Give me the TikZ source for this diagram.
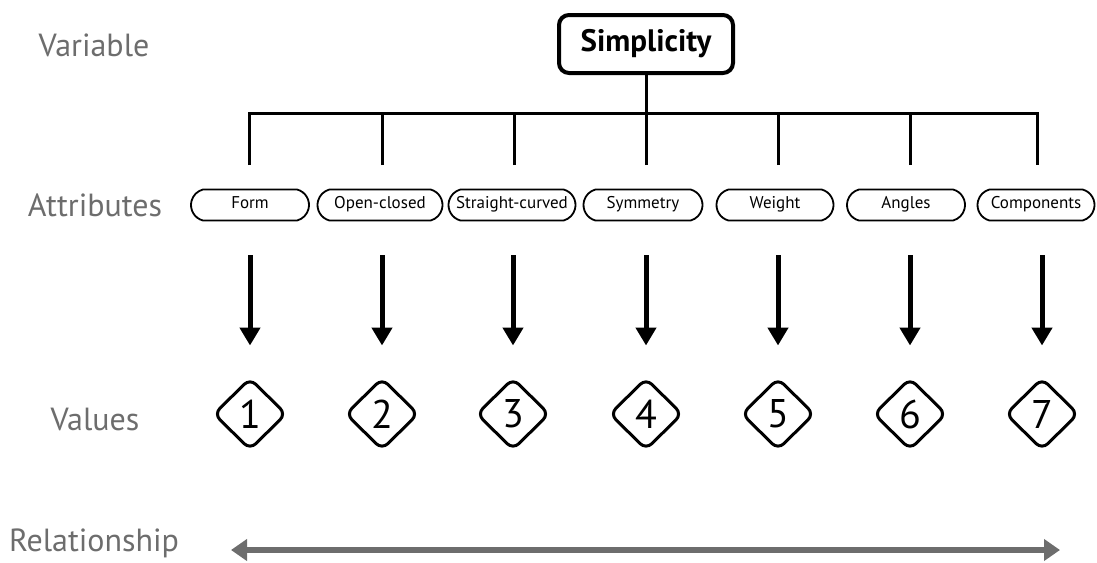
\documentclass[tikz,border=0pt]{standalone}
\usepackage{fontspec}
\setmainfont{PT Sans}
\usetikzlibrary{arrows.meta,positioning,shapes.geometric,shapes.misc}
\definecolor{labgray}{HTML}{6D6D6D}
\tikzset{
  lbl/.style={text=labgray,font=\fontsize{32}{38}\selectfont,anchor=base},
  varbox/.style={draw,line width=4pt,rounded corners=10pt,minimum width=174pt,minimum height=58pt,font=\fontsize{31}{36}\selectfont\bfseries},
  attr/.style={draw,line width=1.8pt,rounded rectangle,rounded rectangle arc length=150,minimum height=31pt,inner xsep=0pt,inner ysep=1pt,text height=1.6ex,text depth=.4ex,font=\fontsize{17}{21}\selectfont},
  val/.style={draw,line width=3pt,diamond,rounded corners=8pt,minimum width=73pt,minimum height=72pt,inner sep=0pt,font=\fontsize{40}{46}\selectfont},
  tree/.style={line width=3pt},
  arr/.style={-{Triangle[width=20pt,length=18pt]},line width=5pt},
  darr/.style={{Triangle[width=21pt,length=16pt]}-{Triangle[width=21pt,length=16pt]},line width=6pt,labgray},
}
\begin{document}
\begin{tikzpicture}[x=1pt,y=-1pt]
\useasboundingbox (0,0) rectangle (1097,562);
% row labels
\node[lbl] (lvar) at (94,56) {Variable};
\node[lbl] (latt) at (95,216) {Attributes};
\node[lbl] (lval) at (95,430) {Values};
\node[lbl] (lrel) at (94,551) {Relationship};
% variable and attributes
\node[varbox] (simp) at (646,44) {Simplicity};
\coordinate (bar) at (646,113);
\foreach \i/\x/\dx/\w/\t in {1/250/249/118/Form,2/380/382/125/Open-closed,3/512/514/127/Straight-curved,4/643/646/119/Symmetry,5/775/778/117/Weight,6/906/910/118/Angles,7/1036/1037/117/Components}{
  \node[attr,minimum width=\w pt] (a\i) at (\x,205) {\t};
  \coordinate (d\i) at (\dx,165);
}
\draw[tree] (simp.south) -- (bar);
\draw[tree] (d1) |- (bar) -| (d7);
\foreach \i in {2,...,6} \draw[tree] (d\i) -- (d\i |- bar);
% values
\foreach \i/\x in {1/250,2/382,3/513,4/646,5/778,6/910,7/1042}{
  \node[val] (v\i) at (\x,414) {\i};
  \coordinate (t\i) at (\x,255);
  \draw[arr] (t\i) -- ([yshift=31pt]v\i.north);
}
% relationship
\coordinate (rl) at (231,550);
\coordinate (rr) at (1060,550);
\draw[darr] (rl) -- (rr);
\end{tikzpicture}
\end{document}
